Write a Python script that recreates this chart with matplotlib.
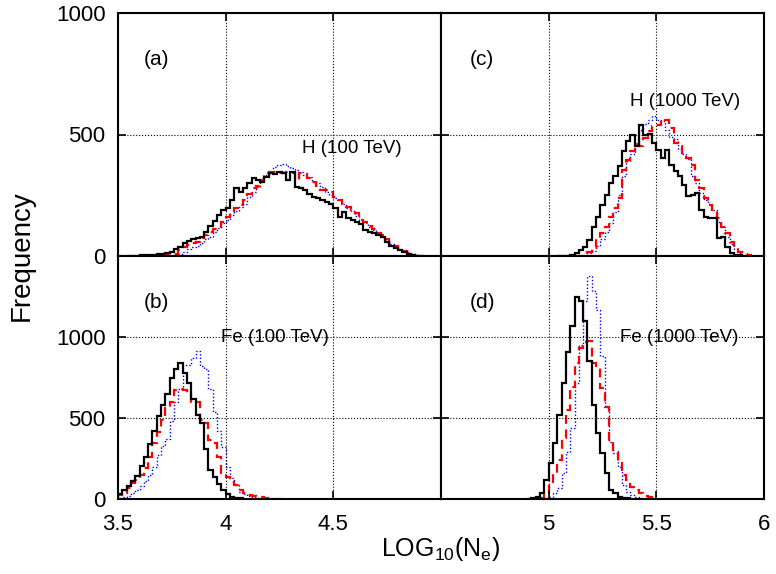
import numpy as np
import matplotlib.pyplot as plt

plt.rcParams['font.family'] = ['Liberation Sans', 'DejaVu Sans']
plt.rcParams['mathtext.fontset'] = 'custom'
plt.rcParams['mathtext.rm'] = 'Liberation Sans'
plt.rcParams['mathtext.it'] = 'Liberation Sans:italic'

bin_width = 0.02

# (a) H, 100 TeV : first bin edge, counts per bin
a_black_start = 3.54
a_black = [1, 1, 2, 3, 4, 5, 6, 8, 10, 12, 15, 27, 38, 55, 60, 70, 75, 80,
           100, 125, 145, 170, 190, 196, 230, 278, 265, 280, 300, 320, 312,
           305, 326, 340, 338, 347, 340, 312, 347, 285, 278, 271, 257, 244,
           237, 230, 223, 214, 196, 162, 182, 155, 148, 141, 132, 107, 100,
           93, 86, 77, 59, 41, 32, 25, 15, 8, 4, 2, 1]
a_red_start = 3.64
a_red = [1, 2, 3, 4, 6, 8, 10, 25, 35, 45, 52, 59, 73, 85, 100, 110, 120,
         141, 162, 182, 196, 210, 230, 255, 280, 290, 312, 340, 347, 347,
         340, 342, 347, 340, 312, 340, 337, 320, 305, 290, 271, 271, 265,
         244, 230, 215, 200, 190, 175, 150, 141, 125, 110, 95, 85, 70, 52,
         40, 30, 22, 12, 6, 2]
a_blue_start = 3.66
a_blue = [1, 1, 2, 2, 3, 4, 10, 18, 28, 36, 42, 55, 70, 80, 100, 115, 134,
          150, 170, 185, 200, 212, 244, 265, 285, 310, 335, 345, 367, 374,
          378, 370, 362, 355, 345, 333, 326, 305, 299, 285, 265, 250, 240,
          230, 216, 196, 185, 165, 150, 135, 120, 107, 93, 80, 62, 50, 38,
          28, 20, 13, 7, 3]

# (b) Fe, 100 TeV
b_black_start = 3.50
b_black = [30, 55, 80, 110, 140, 205, 260, 340, 420, 515, 580, 650, 750,
           805, 840, 780, 715, 615, 520, 470, 310, 180, 135, 95, 55, 30, 15,
           8, 4]
b_red_start = 3.50
b_red = [25, 40, 65, 97, 117, 148, 190, 262, 344, 416, 488, 560, 600, 673,
         678, 673, 653, 600, 600, 488, 467, 365, 344, 262, 159, 138, 107, 87,
         56, 40, 25, 19, 14, 10, 6, 4, 3, 2, 1]
b_blue_start = 3.50
b_blue = [5, 10, 18, 35, 55, 80, 110, 150, 200, 270, 330, 370, 480, 600,
          680, 830, 830, 870, 915, 820, 800, 680, 540, 420, 320, 200, 130,
          85, 45, 30, 18, 10, 5, 3]

# (c) H, 1000 TeV
c_black_start = 5.04
c_black = [1, 1, 2, 3, 11, 25, 39, 66, 121, 162, 211, 252, 300, 328, 369,
           431, 472, 496, 452, 541, 500, 504, 465, 438, 403, 438, 376, 349,
           328, 293, 245, 252, 259, 190, 162, 156, 156, 73, 80, 39, 11, 5, 3]
c_red_start = 5.12
c_red = [1, 2, 4, 18, 32, 73, 96, 121, 162, 197, 238, 355, 397, 431, 459,
         452, 486, 514, 534, 541, 562, 559, 527, 465, 452, 417, 403, 376,
         314, 280, 238, 211, 190, 156, 121, 94, 59, 32, 18, 8, 3]
c_blue_start = 5.14
c_blue = [2, 6, 12, 22, 40, 70, 100, 135, 180, 250, 330, 390, 420, 460,
          520, 545, 560, 575, 560, 555, 520, 490, 480, 440, 420, 400, 330,
          300, 260, 230, 215, 190, 140, 120, 80, 50, 30, 14, 6, 2]

# (d) Fe, 1000 TeV
d_black_start = 4.90
d_black = [2, 4, 10, 35, 117, 220, 344, 519, 715, 910, 1065, 1246, 1220,
           1096, 849, 581, 406, 282, 159, 56, 35, 14, 8, 4]
d_red_start = 4.96
d_red = [8, 25, 107, 159, 241, 375, 550, 694, 838, 931, 972, 975, 838, 818,
         684, 570, 354, 292, 220, 148, 117, 76, 56, 35, 18, 10, 4]
d_blue_start = 4.98
d_blue = [4, 10, 35, 66, 159, 292, 437, 715, 951, 1220, 1374, 1282, 1168,
          880, 570, 354, 282, 200, 87, 45, 25, 10, 4]

panels = [
    # row, col, label, title, series (blue, red, black)
    (0, 0, '(a)', 'H (100 TeV)',
     [(a_blue_start, a_blue), (a_red_start, a_red), (a_black_start, a_black)]),
    (0, 1, '(c)', 'H (1000 TeV)',
     [(c_blue_start, c_blue), (c_red_start, c_red), (c_black_start, c_black)]),
    (1, 0, '(b)', 'Fe (100 TeV)',
     [(b_blue_start, b_blue), (b_red_start, b_red), (b_black_start, b_black)]),
    (1, 1, '(d)', 'Fe (1000 TeV)',
     [(d_blue_start, d_blue), (d_red_start, d_red), (d_black_start, d_black)]),
]
title_pos = {'(a)': (0.725, 0.444), '(c)': (0.755, 0.634),
             '(b)': (0.485, 0.663), '(d)': (0.736, 0.663)}

styles = [dict(color='blue', lw=1.0, linestyle=(0, (1, 1.5))),
          dict(color='red', lw=1.6, linestyle=(0, (4, 2.5))),
          dict(color='black', lw=1.6, linestyle='-')]

fig, axes = plt.subplots(2, 2, figsize=(7.76, 5.74), dpi=100)
fig.subplots_adjust(left=118/776, right=764/776, top=1-13/574,
                    bottom=1-499/574, wspace=0, hspace=0)

for row, col, lab, title, series in panels:
    ax = axes[row, col]
    for (start, counts), st in zip(series, styles):
        edges = start + bin_width * np.arange(len(counts) + 1)
        ax.stairs(counts, edges, **st)
    if col == 0:
        ax.set_xlim(3.5, 5.0)
        ax.set_xticks([3.5, 4, 4.5])
        ax.set_xticklabels(['3.5', '4', '4.5'])
    else:
        ax.set_xlim(4.5, 6.0)
        ax.set_xticks([5, 5.5, 6])
        ax.set_xticklabels(['5', '5.5', '6'])
    if row == 0:
        ax.set_ylim(0, 1000)
    else:
        ax.set_ylim(0, 1500)
    ax.set_yticks([0, 500, 1000])
    ax.grid(True, linestyle=':', color='black', lw=0.8)
    ax.tick_params(direction='in', top=True, right=True, length=6,
                   width=1.2, labelsize=16, pad=9)
    ax.tick_params(axis='x', pad=11)
    ax.tick_params(labelleft=(col == 0), labelbottom=(row == 1))
    for sp in ax.spines.values():
        sp.set_linewidth(1.5)
    ax.text(0.12 if col == 0 else 0.127, 0.807, lab, transform=ax.transAxes,
            ha='center', va='center', fontsize=15)
    tx, ty = title_pos[lab]
    ax.text(tx, ty, title, transform=ax.transAxes, ha='center', va='center',
            fontsize=13.5)

fig.text(22/776, 1-256/574, 'Frequency', rotation=90, ha='center',
         va='center', fontsize=20)
fig.text(441/776, 1-549/574, r'LOG$_{\mathrm{10}}$(N$_{\mathrm{e}}$)',
         ha='center', va='center', fontsize=18)

fig.savefig('out.png', dpi=100)
